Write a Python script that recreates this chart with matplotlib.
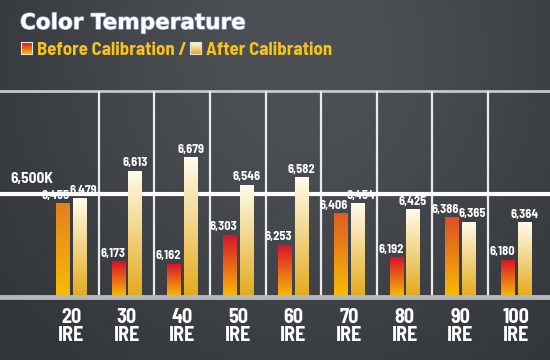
import numpy as np
import matplotlib
matplotlib.use("Agg")
import matplotlib.pyplot as plt
import matplotlib.patheffects as pe
from matplotlib.colors import to_rgb

# -------- data --------
categories = ["20", "30", "40", "50", "60", "70", "80", "90", "100"]
before = [6455, 6173, 6162, 6303, 6253, 6406, 6192, 6386, 6180]
after = [6479, 6613, 6679, 6546, 6582, 6454, 6425, 6365, 6364]
target = 6500
y_min, y_max = 6000, 7000

NARROW = ["Barlow Semi Condensed", "Barlow Condensed", "Roboto Condensed", "DejaVu Sans"]

W, H = 550, 360
fig = plt.figure(figsize=(W / 100, H / 100), dpi=100)

# -------- background --------
bg = fig.add_axes([0, 0, 1, 1], zorder=-10)
gx, gy = np.meshgrid(np.linspace(0, 1, 300), np.linspace(0, 1, 200))
glow = np.exp(-((gx - 0.55) / 0.55) ** 2 - ((gy - 0.15) / 0.9) ** 2)
dark = np.array(to_rgb("#2c2f34"))
light = np.array(to_rgb("#4d5055"))
img = dark + (light - dark) * glow[..., None]
bg.imshow(img, extent=[0, 1, 0, 1], aspect="auto", origin="upper")
bg.axis("off")

# -------- main axes --------
# axes spans pixel rows 91 (7000) .. 297 (6000), full width
ax = fig.add_axes([0, (H - 297) / H, 1, (297 - 91) / H])
ax.set_facecolor("none")
x0_px, step_px = 71, 55.6
ax.set_xlim(-x0_px / step_px, (W - x0_px) / step_px)
ax.set_ylim(y_min, y_max)
for s in ax.spines.values():
    s.set_visible(False)
ax.set_xticks([])
ax.set_yticks([])

x = np.arange(len(categories))

# grid
ax.axhline(y_max, color="#c4c8cc", lw=2, zorder=1, clip_on=False)
for xv in x[:-1] + 0.5:
    ax.plot([xv, xv], [y_min, y_max], color="#e8eaec", lw=1.6, zorder=1)
ax.axhline(target, color="#ffffff", lw=3, zorder=1)
ax.axhline(y_min, color="#b4b8bc", lw=3.5, zorder=5, clip_on=False)

ax.text(-x0_px / step_px + 10 / step_px, target + 40, "6,500K", color="white",
        fontsize=11, fontweight="bold", family=NARROW, va="bottom", ha="left")

bar_w = 0.234
off_b, off_a = -0.153, 0.15
red = np.array(to_rgb("#d9102b"))
orange = np.array(to_rgb("#e5821f"))
yellow = np.array(to_rgb("#f7bd05"))
cream = np.array(to_rgb("#fffcec"))
gold = np.array(to_rgb("#e3aa1a"))


def grad_bar(xc, val, top, bottom):
    bars = ax.bar(xc, val - y_min, bottom=y_min, width=bar_w, color="none",
                  edgecolor="none", zorder=3)
    t = np.linspace(0, 1, 100)[:, None]
    cols = top + (bottom - top) * t
    im = ax.imshow(cols[:, None, :], extent=[xc - bar_w / 2, xc + bar_w / 2, y_min, val],
                   aspect="auto", origin="upper", zorder=3)
    im.set_clip_path(bars[0])


px = 1 / step_px  # one pixel in x data units
for i, (b, a) in enumerate(zip(before, after)):
    frac = np.clip((b - 6300) / (6460 - 6300), 0, 1)
    top_b = red + (orange - red) * frac
    grad_bar(x[i] + off_b, b, top_b, yellow)
    grad_bar(x[i] + off_a, a, cream, gold)
    ax.text(x[i] + off_b + bar_w / 2 + 1 * px, b + 12, f"{b:,}", color="white",
            fontsize=9, fontweight="bold", family=NARROW, ha="right", va="bottom", zorder=6)
    # push the after label aside when the two labels sit at the same height
    close = abs(a - b) < 80
    ax.text(x[i] + off_a + (4 * px if close else 0), a + 12, f"{a:,}", color="white",
            fontsize=9, fontweight="bold", family=NARROW, ha="center", va="bottom", zorder=6)
    ax.text(x[i], y_min - 55, f"{categories[i]}\nIRE", color="white", fontsize=14.5,
            fontweight="bold", family=NARROW, ha="center", va="top",
            linespacing=0.9, clip_on=False)

ax.set_xlim(-x0_px / step_px, (W - x0_px) / step_px)
ax.set_ylim(y_min, y_max)

# -------- title + legend --------
fig.text(20 / W, 1 - 29 / H, "Color Temperature", color="white", fontsize=15.5,
         fontweight="bold", family="DejaVu Sans", ha="left", va="baseline",
         path_effects=[pe.withStroke(linewidth=1.0, foreground="#8ea2c4")])


def legend_square(px, top, bottom):
    sq = fig.add_axes([px / W, 1 - 54 / H, 11 / W, 12 / H])
    t = np.linspace(0, 1, 50)[:, None]
    cols = top + (bottom - top) * t
    sq.imshow(cols[:, None, :], aspect="auto", origin="upper")
    sq.set_xticks([])
    sq.set_yticks([])
    for s in sq.spines.values():
        s.set_color("#e0e0e0")
        s.set_linewidth(0.8)


legend_square(21, red, yellow)
legend_square(190, cream, gold)
fig.text(37 / W, 1 - 55 / H, "Before Calibration /", color="#f6c31a", fontsize=13.5,
         fontweight="bold", family=NARROW, ha="left", va="baseline")
fig.text(206 / W, 1 - 55 / H, "After Calibration", color="#f6c31a", fontsize=13.5,
         fontweight="bold", family=NARROW, ha="left", va="baseline")

fig.savefig("out.png", dpi=100)
